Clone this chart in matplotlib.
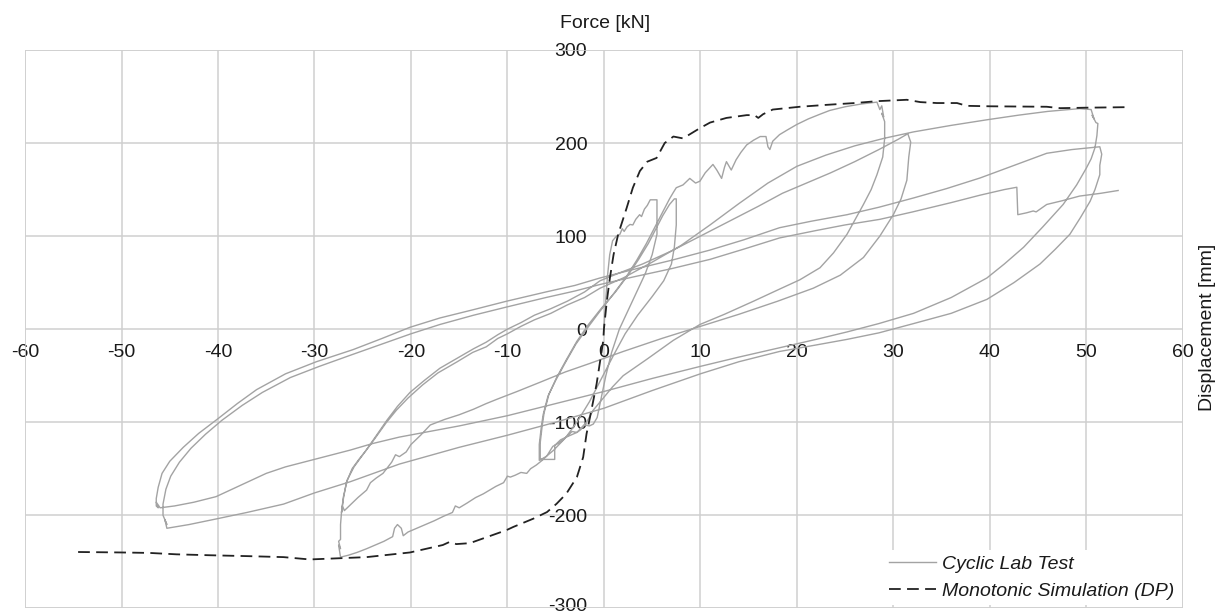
import matplotlib
matplotlib.use("Agg")
import matplotlib.pyplot as plt
import matplotlib.transforms as mtransforms
import numpy as np

# monotonic simulation (DP), displacement [mm] / force [kN]
mono = [(-54.5,-239.5),(-50,-240),(-47.1,-240.5),(-44.3,-242),(-40.8,-243),(-36.7,-244),(-33.2,-245),
        (-30.5,-247.5),(-28.1,-246.5),(-24.6,-245),(-20.1,-240),(-16.7,-232),(-16.0,-228.7),(-15.3,-231),
        (-13.9,-230),(-12,-223),(-10.1,-216),(-9.4,-212.6),(-7.3,-203.6),(-5.9,-196.6),(-4.9,-187.6),
        (-3.9,-176.9),(-2.8,-159),(-2.15,-137.6),(-1.8,-112.5),(-1.45,-95),(-0.76,-59),(-0.07,-12.5),
        (0,0),(0.3,30),(0.62,55),(1.0,80),(1.48,102),(2.35,130),(3.0,152),(3.73,170),(4.5,180),(5.46,184),
        (6.3,200),(7.2,207),(8.2,205),(9.95,216),(11,222),(12.7,227),(14.8,230),(15.6,230),(16.0,227),
        (16.5,231),(17.5,236),(20.3,239),(23,241),(26,243),(28.3,245),(31.4,246.5),(32.8,244),(34.5,243),
        (36.6,243),(37.6,240),(40,239.5),(45.9,239),(47.3,237.5),(50,238),(54.5,238.6)]

# cyclic lab test, one list per half cycle
up1 = [(0,0),(0.15,25),(0.35,55),(0.6,80),(0.9,95),(1.3,100),(1.66,102),(1.9,108),(2.1,105),(2.4,110),
       (2.7,112.5),(3.0,112),(3.3,118),(3.7,123),(3.9,121),(4.2,129),(4.5,133),(4.8,139),(5.5,139),(5.5,102)]
down1 = [(5.5,102),(5.0,80),(4.3,60),(3.4,40),(2.5,20),(1.6,0),(0.8,-25),(0.2,-50),(-0.3,-75),(-0.7,-95),
         (-1.1,-102),(-1.5,-104),(-2.0,-103),(-2.4,-108),(-2.8,-111),(-3.3,-110),(-3.9,-116),(-4.5,-119),
         (-5.1,-125),(-5.1,-140),(-6.6,-140)]
up2 = [(-6.6,-140),(-6.6,-122),(-6.4,-104),(-6.2,-90),(-5.7,-70),(-4.9,-52),(-3.9,-33),(-2.8,-13),(-1.6,5),
       (-0.3,22),(1.2,40),(2.5,58),(3.6,75),(4.6,92),(5.4,108),(6.1,122),(6.8,134),(7.3,140),(7.5,140)]
down2 = [(7.5,140),(7.5,112),(7.3,88),(7.0,70),(6.2,52),(5.0,35),(3.5,15),(2.2,-5),(1.0,-28),(-0.2,-52),
         (-1.5,-78),(-2.8,-100),(-4.0,-117),(-5.2,-130),(-6.0,-137),(-6.7,-141)]
up3 = [(-6.7,-141),(-6.7,-124),(-6.5,-106),(-6.3,-92),(-5.8,-72),(-5.0,-55),(-4.0,-36),(-2.9,-16),(-1.8,0),
       (-0.5,18),(1.0,38),(2.3,56),(3.4,74),(4.4,92),(5.3,110),(6.1,126),(6.8,140),(7.2,147),(7.5,152),
       (8.2,155),(8.9,162),(9.5,157),(9.95,159),(10.5,168),(11.3,177),(11.7,171),(12.2,162),(12.5,174),
       (12.7,180),(13.2,171),(13.7,182),(14.2,190),(14.8,198),(15.5,203),(16.2,207),(16.8,207),(17.0,196),
       (17.2,193),(17.5,202),(18.2,209),(19.0,214),(20.0,220),(21.2,226),(22.4,231),(23.4,235),(25.0,239),
       (26.7,242),(28.3,244),(28.6,236),(28.8,240),(29.0,228),(28.8,232),(29.1,223)]
down3 = [(29.1,223),(29.1,205),(28.9,185),(28.3,166),(27.7,150),(26.9,134),(25.2,102),(23.8,82),(22.4,66),
         (20.3,53),(18.2,43),(15.5,30),(12.5,16),(9.95,5),(7.2,-12),(4.5,-32),(2.0,-50),(0.9,-62),(-0.3,-77),
         (-1.1,-87),(-1.8,-100),(-2.8,-111),(-3.9,-116),(-4.6,-122),(-5.3,-126),(-5.9,-136),(-6.4,-141),
         (-7.0,-146),(-7.6,-150),(-8.0,-155),(-8.6,-154),(-9.2,-157),(-9.7,-159),(-10.0,-158),(-10.4,-165),
         (-11.2,-169),(-12.0,-174),(-12.5,-177),(-13.3,-181),(-14.2,-187),(-15.0,-192),(-15.4,-190),
         (-15.7,-197),(-16.6,-201),(-17.6,-206),(-18.5,-210),(-19.4,-214),(-20.3,-218),(-20.8,-222),
         (-21.0,-214),(-21.4,-210),(-21.7,-214),(-21.9,-223),(-22.8,-228),(-23.7,-232),(-24.6,-236),
         (-25.6,-240),(-26.5,-243),(-27.3,-245),(-27.5,-232),(-27.3,-236),(-27.5,-228),(-27.3,-226)]
up4 = [(-27.3,-226),(-27.3,-210),(-27.2,-197),(-27.0,-180),(-26.6,-162),(-25.9,-148),(-25.2,-138),
       (-24.5,-128),(-23.5,-113),(-22.5,-98),(-21.4,-83),(-20.1,-68),(-18.6,-55),(-17.0,-42),(-15.0,-30),
       (-13.5,-21),(-12.2,-14),(-11.0,-6),(-10.0,0),(-8.6,7),(-7.2,15),(-5.5,22),(-3.8,30),(-2.0,40),
       (-0.4,52),(1.5,60),(4,70),(7,84),(10,100),(13,116),(16,132),(18.5,146),(21,157),(23.5,168),(26,180),
       (28.5,193),(30.5,204),(31.5,210),(31.8,201)]
down4 = [(31.8,201),(31.6,185),(31.4,160),(30.8,140),(30.0,123),(28.6,100),(26.9,77),(24.5,58),(21.7,44),
         (18,30),(14,16),(10,3),(6,-10),(2,-24),(-1.5,-37),(-4,-46),(-6.6,-57),(-9,-67),(-11,-75),
         (-12.2,-80),(-13.5,-86),(-15,-92),(-16.5,-97),(-18,-103),(-19,-114),(-19.4,-118),(-20.0,-124),
         (-20.5,-132),(-21.2,-137),(-21.6,-135),(-22.0,-143),(-22.9,-155),(-23.6,-160),(-24.2,-165),
         (-24.6,-173),(-25.5,-181),(-26.2,-188),(-26.9,-195),(-27.1,-190),(-27.2,-197)]
up5 = [(-27.2,-197),(-27.0,-182),(-26.7,-165),(-26.1,-150),(-25.4,-140),(-24.7,-131),(-23.7,-117),
       (-22.6,-101),(-21.5,-87),(-20.3,-74),(-18.8,-60),(-17.2,-47),(-15.2,-35),(-13.6,-25),(-12.2,-19),
       (-11,-10),(-10,-5),(-8.6,3),(-7.2,10),(-5.5,17),(-3.8,26),(-2,34),(-0.4,44),(2,55),(5,72),(8,90),
       (11,112),(14,135),(17,157),(20,175),(23,187),(26,197),(29,205),(32.1,212),(36,219),(39.7,225),
       (43,230),(46,234),(49.3,237),(50.5,236),(50.8,226),(50.6,230),(51.0,222),(51.2,221)]
down5 = [(51.2,221),(51.1,208),(50.9,195),(50.5,183),(50,173),(49,155),(47.6,134),(45.5,110),(43.5,88),
         (41.5,70),(39.7,55),(36,34),(32.1,17),(28.5,6),(25.2,-3),(22,-11),(18.2,-20),(14,-30),(10,-40),
         (5,-53),(0,-67),(-5,-80),(-10,-93),(-15,-104),(-21.2,-116),(-24,-123),(-26.3,-130),(-30,-140),
         (-33,-148),(-35,-155),(-37.5,-167),(-40.2,-180),(-42.5,-186),(-44.5,-190),(-46.0,-192),
         (-46.4,-186),(-46.2,-192),(-46.4,-190)]
up6 = [(-46.4,-190),(-46.4,-182),(-46.2,-170),(-45.8,-155),(-45.0,-142),(-43.6,-127),(-42,-112),(-40.1,-97),
       (-38,-80),(-36,-65),(-33,-48),(-29.8,-35),(-26,-22),(-23,-10),(-20.1,2),(-17,12),(-13.5,21),(-10.1,30),
       (-6,40),(-3,47),(-0.4,55),(3,64),(7,74),(11,85),(14.5,96),(18.2,109),(21.5,116),(25.2,123),(28.5,131),
       (32.1,141),(35.5,151),(39,162.5),(42.5,176),(45.9,189),(48.5,193),(50.4,195),(51.4,196),(51.6,188)]
down6 = [(51.6,188),(51.4,176),(51.4,166),(50.9,150),(50.4,137.5),(49.4,120),(48.3,102),(46.8,86),(45.2,70),
         (42.5,50),(39.7,32),(36,17),(32.1,6),(28.5,-4),(25.2,-11),(22,-17),(18.2,-24),(14,-35),(10,-48),
         (5,-66),(0,-85),(-5,-100),(-10,-114),(-15,-127),(-21.2,-145),(-26.3,-164),(-30,-176),(-33.2,-188),
         (-37,-197),(-40.2,-204),(-43,-210),(-45.3,-214),(-45.5,-205),(-45.3,-210),(-45.7,-200)]
up7 = [(-45.7,-200),(-45.7,-188),(-45.4,-172),(-44.9,-158),(-44,-143),(-42.8,-128),(-41.3,-113),(-39.6,-98),
       (-37.5,-82),(-35.4,-68),(-32.5,-52),(-29.5,-40),(-26,-27),(-23,-16),(-20,-5),(-17,5),(-13.5,15),
       (-10,24),(-6,34),(-3,41),(-0.4,48),(3,56),(7,65),(11,75),(14.5,86),(18.2,98),(22,106),(25,112),
       (28.6,118),(32,126),(36,136),(39,144),(41.5,150),(42.8,152.5),(42.9,123),(43.8,125),(44.5,127),
       (44.8,126),(45.9,134),(47.5,138),(49.3,143),(51.5,146),(53.3,149)]

cycles = [up1, down1, up2, down2, up3, down3, up4, down4, up5, down5, up6, down6, up7]

xticks = np.arange(-60, 61, 10)
yticks = np.arange(-300, 301, 100)

plt.rcParams['font.family'] = ['Liberation Sans', 'DejaVu Sans']
plt.rcParams['axes.unicode_minus'] = False

fig = plt.figure(figsize=(12.22, 6.15), dpi=100)
ax = fig.add_axes([0.0205, 0.0109, 0.9474, 0.9078])

cyc = np.array([p for seg in cycles for p in seg])
mon = np.array(mono)

ax.plot(cyc[:, 0], cyc[:, 1], color='#a3a3a3', lw=1.0, label='Cyclic Lab Test', zorder=3)
ax.plot(mon[:, 0], mon[:, 1], color='#222222', lw=1.3, dashes=(6.5, 3.5), label='Monotonic Simulation (DP)', zorder=4)

ax.set_xlim(-60, 60)
ax.set_ylim(-300, 300)
ax.set_xticks(xticks)
ax.set_yticks(yticks)
ax.grid(True, color='#cfcfcf', lw=1.1, zorder=0)
ax.set_axisbelow(True)

# axes cross at the origin, labels sit next to the zero lines
ax.spines['left'].set_position('zero')
ax.spines['bottom'].set_position('zero')
for s in ['left', 'bottom', 'top', 'right']:
    ax.spines[s].set_visible(False)
ax.tick_params(axis='both', length=0, labelsize=14, labelcolor='#1a1a1a')
ax.tick_params(axis='x', pad=11)
ax.tick_params(axis='y', pad=12)

# keep the bottom label inside the canvas
lbl = ax.get_yticklabels()[0]
lbl.set_transform(lbl.get_transform() + mtransforms.ScaledTranslation(0, 4/100, fig.dpi_scale_trans))

# outer border
ax.add_patch(plt.Rectangle((0, 0), 1, 1, transform=ax.transAxes, fill=False, edgecolor='#cfcfcf', lw=1.1, zorder=1))

fig.text(605/1222, 1 - 23/615, 'Force [kN]', ha='center', va='center', fontsize=14, color='#1a1a1a')
fig.text(1208/1222, 1 - 327/615, 'Displacement [mm]', ha='center', va='center', rotation=90, fontsize=14, color='#1a1a1a')

leg = ax.legend(loc='lower right', bbox_to_anchor=(1.0, 0.0), frameon=True, fancybox=False,
                edgecolor='none', facecolor='white', framealpha=1.0, borderpad=0.3, borderaxespad=0.15,
                handlelength=2.4, handletextpad=0.3, labelspacing=0.45,
                prop={'style': 'italic', 'size': 14})
leg.set_zorder(5)
for t in leg.get_texts():
    t.set_color('#1a1a1a')

fig.savefig('out.png', dpi=100)
